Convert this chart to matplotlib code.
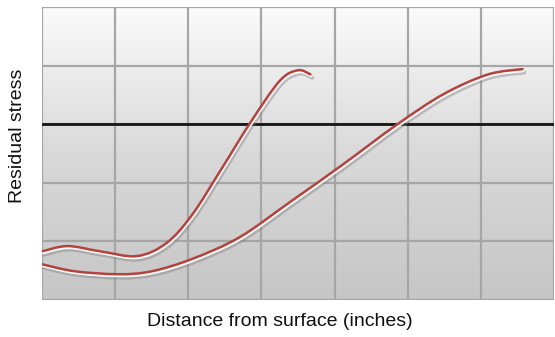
import numpy as np
import matplotlib
matplotlib.use("Agg")
import matplotlib.pyplot as plt
from matplotlib.path import Path
from matplotlib.patches import PathPatch
import matplotlib.patheffects as pe
from matplotlib.font_manager import fontManager

# Stress profiles: distance from surface vs residual stress (arbitrary units)
shallow_x = [0.0, 0.35, 0.8, 1.3, 1.7, 2.05, 2.45, 2.85, 3.25, 3.5, 3.67]
shallow_y = [-2.17, -2.08, -2.17, -2.25, -2.03, -1.55, -0.77, 0.03, 0.74, 0.92, 0.85]

deep_x = [0.0, 0.45, 1.05, 1.5, 2.05, 2.7, 3.4, 4.1, 4.86, 5.5, 6.1, 6.57]
deep_y = [-2.39, -2.51, -2.56, -2.51, -2.30, -1.93, -1.32, -0.70, 0.0, 0.52, 0.85, 0.94]

x_ticks = [0, 1, 2, 3, 4, 5, 6, 7]
y_ticks = [-3, -2, -1, 0, 1, 2]

names = {f.name for f in fontManager.ttflist}
label_family = ["Liberation Sans Narrow", "DejaVu Sans"] if "Liberation Sans Narrow" in names else ["Liberation Sans", "DejaVu Sans"]


def smooth_path(xs, ys):
    """Catmull-Rom curve through the points, expressed as cubic Bezier segments."""
    pts = np.column_stack([xs, ys])
    verts = [pts[0]]
    codes = [Path.MOVETO]
    n = len(pts)
    for i in range(n - 1):
        p0 = pts[i - 1] if i > 0 else pts[i]
        p1, p2 = pts[i], pts[i + 1]
        p3 = pts[i + 2] if i + 2 < n else pts[i + 1]
        c1 = p1 + (p2 - p0) / 6.0
        c2 = p2 - (p3 - p1) / 6.0
        verts += [c1, c2, p2]
        codes += [Path.CURVE4] * 3
    return Path(verts, codes)


fig = plt.figure(figsize=(5.55, 3.37), dpi=100)
ax = fig.add_axes([42 / 555, 37 / 337, 512 / 555, 293 / 337])
ax.set_xlim(x_ticks[0], x_ticks[-1])
ax.set_ylim(y_ticks[0], y_ticks[-1])

# vertical gradient background (light at top, grey at bottom)
grad = np.linspace(0, 1, 256).reshape(-1, 1)
cmap = matplotlib.colors.LinearSegmentedColormap.from_list("bg", ["#c6c6c6", "#d9d9d9", "#fbfbfb"])
ax.imshow(grad, extent=[x_ticks[0], x_ticks[-1], y_ticks[0], y_ticks[-1]],
          origin="lower", aspect="auto", cmap=cmap, zorder=0)

for xv in x_ticks:
    ax.axvline(xv, color="#a6a6a6", lw=1.6, zorder=1)
for yv in y_ticks:
    ax.axhline(yv, color="#a6a6a6", lw=1.6, zorder=1)
ax.axhline(0, color="#151515", lw=2.0, zorder=2)

effects = [
    pe.SimpleLineShadow(offset=(1.2, -2.4), shadow_color="#7a7a7a", alpha=0.4, linewidth=3.0),
    pe.SimpleLineShadow(offset=(0.6, -1.3), shadow_color="white", alpha=0.95, linewidth=1.8),
    pe.Normal(),
]
for xs, ys in [(shallow_x, shallow_y), (deep_x, deep_y)]:
    patch = PathPatch(smooth_path(xs, ys), facecolor="none", edgecolor="#b6423d",
                      lw=1.8, capstyle="round", zorder=3)
    patch.set_path_effects(effects)
    ax.add_patch(patch)

ax.set_xticks([])
ax.set_yticks([])
for s in ax.spines.values():
    s.set_visible(False)

fig.text(280 / 555, 1 - 322 / 337, "Distance from surface (inches)", ha="center", va="center",
         fontsize=14, family=label_family, color="#111111")
fig.text(18 / 555, 1 - 136 / 337, "Residual stress", ha="center", va="center", rotation=90,
         fontsize=14, family=label_family, color="#111111")

fig.savefig("out.png", dpi=100, facecolor="white")
